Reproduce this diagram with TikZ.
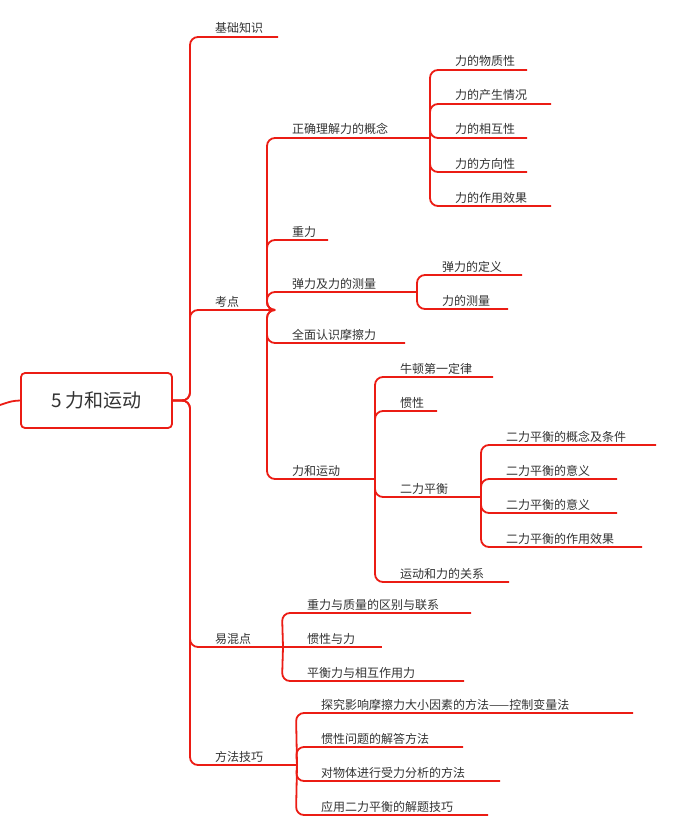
\documentclass[tikz,border=0pt]{standalone}
\usepackage{fontspec}
\setmainfont{Noto Sans CJK SC}
\definecolor{lred}{RGB}{235,28,20}
\definecolor{txt}{RGB}{50,50,50}
\newcommand\br[5]{%
  \node[lbl,anchor=base west] (#1) at (#3,#4-4) {#2};
  \coordinate (#1s) at (#3-25,#4);
  \coordinate (#1e) at (#5,#4);}
\begin{document}
\begin{tikzpicture}[x=1pt,y=-1pt,
  lbl/.style={inner sep=0pt,font=\fontsize{12}{14}\selectfont,text=txt},
  con/.style={draw=lred,line width=1.8pt,rounded corners=8pt}]
\useasboundingbox (0,0) rectangle (685,829);
\node[draw=lred,line width=1.8pt,rounded corners=4pt,minimum width=151pt,minimum height=55pt,
  font=\fontsize{19}{22}\selectfont,text=txt] (root) at (96.5,400.5) {5 力和运动};
\coordinate (rootL) at (0,405);
\draw[con] (root.west) .. controls (12,401) .. (rootL);
% level 1
\br{a}{基础知识}{215}{37}{278}
\br{b}{考点}{215}{310}{268}
\br{c}{易混点}{215}{647}{283}
\br{d}{方法技巧}{215}{765}{297}
% kaodian
\br{b1}{正确理解力的概念}{292}{138}{430}
\br{b2}{重力}{292}{240}{328}
\br{b3}{弹力及力的测量}{292}{292}{417}
\br{b4}{全面认识摩擦力}{292}{343}{405}
\br{b5}{力和运动}{292}{479}{375}
\br{b11}{力的物质性}{455}{70}{527}
\br{b12}{力的产生情况}{455}{104}{551}
\br{b13}{力的相互性}{455}{138}{527}
\br{b14}{力的方向性}{455}{172}{527}
\br{b15}{力的作用效果}{455}{206}{551}
\br{b31}{弹力的定义}{442}{275}{522}
\br{b32}{力的测量}{442}{309}{508}
\br{b51}{牛顿第一定律}{400}{377}{493}
\br{b52}{惯性}{400}{411}{437}
\br{b53}{二力平衡}{400}{497}{481}
\br{b54}{运动和力的关系}{400}{582}{509}
\br{b531}{二力平衡的概念及条件}{506}{445}{656}
\br{b532}{二力平衡的意义}{506}{479}{617}
\br{b533}{二力平衡的意义}{506}{513}{617}
\br{b534}{二力平衡的作用效果}{506}{547}{642}
\br{c1}{重力与质量的区别与联系}{307}{613}{471}
\br{c2}{惯性与力}{307}{647}{382}
\br{c3}{平衡力与相互作用力}{307}{681}{464}
\br{d1}{探究影响摩擦力大小因素的方法——控制变量法}{321}{713}{633}
\br{d2}{惯性问题的解答方法}{321}{747}{463}
\br{d3}{对物体进行受力分析的方法}{321}{781}{500}
\br{d4}{应用二力平衡的解题技巧}{321}{815}{488}
% connectors
\foreach \c in {a,b,c,d}
  \draw[con] (root.east) -- (\c s |- root.east) -- (\c s) -- (\c e);
\foreach \c in {b1,b2,b3,b4,b5}
  \draw[con] (be) -- (\c s |- be) -- (\c s) -- (\c e);
\foreach \c in {b11,b12,b13,b14,b15}
  \draw[con] (b1e) -- (\c s) -- (\c e);
\foreach \c in {b31,b32}
  \draw[con] (b3e) -- (\c s |- b3e) -- (\c s) -- (\c e);
\foreach \c in {b51,b52,b53,b54}
  \draw[con] (b5e) -- (\c s) -- (\c e);
\foreach \c in {b531,b532,b533,b534}
  \draw[con] (b53e) -- (\c s) -- (\c e);
\foreach \c in {c1,c2,c3}
  \draw[con] (ce) -- (\c s) -- (\c e);
\foreach \c in {d1,d2,d3,d4}
  \draw[con] (de) -- (\c s) -- (\c e);
\end{tikzpicture}
\end{document}
